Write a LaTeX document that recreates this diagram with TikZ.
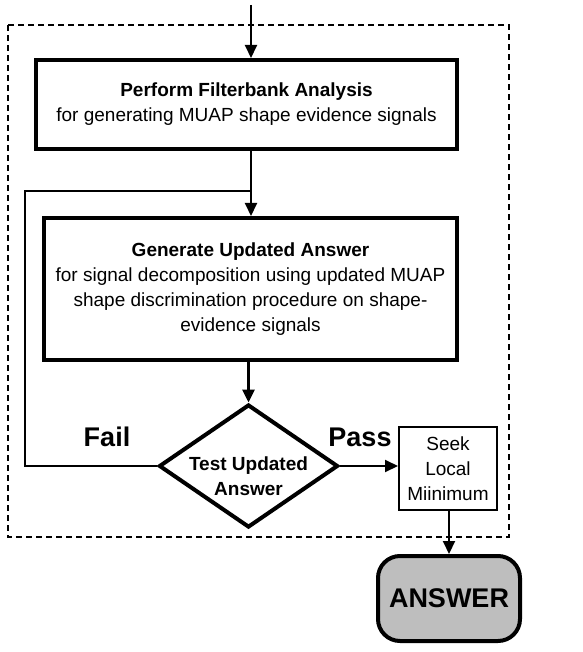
\documentclass[tikz,border=0pt]{standalone}
\usepackage{fontspec}
\setmainfont{Liberation Sans}
\usetikzlibrary{positioning, shapes.geometric, arrows.meta}
\definecolor{answergray}{RGB}{190,190,190}

\begin{document}
\begin{tikzpicture}
	[x=1pt, y=-1pt, on grid, >={Triangle[length=13pt,width=12pt]},
	 every node/.style={font=\fontsize{19}{25}\selectfont, align=center},
	 procbox/.style={draw, rectangle, line width=4pt, inner sep=0pt},
	 test/.style={draw, diamond, line width=4pt, minimum width=179pt, minimum height=123pt, inner sep=0pt},
	 seekbox/.style={draw, rectangle, line width=2pt, minimum width=98pt, minimum height=83pt, inner sep=0pt},
	 answerbox/.style={draw, rectangle, rounded corners=22pt, line width=4pt, fill=answergray,
	   minimum width=142pt, minimum height=85pt, font=\fontsize{27}{27}\selectfont\bfseries},
	 flow/.style={line width=2pt},
	 dashbox/.style={dash pattern=on 6pt off 4pt, line width=1.5pt},
	 verdict/.style={font=\fontsize{27}{27}\selectfont\bfseries, anchor=base}]
   \useasboundingbox (0,0) rectangle (582,652);
   \draw[dashbox] (8,25) rectangle (509,537);

   \node[procbox, minimum width=421pt, minimum height=89pt] (filter) at (246.5,104.5)
     {\textbf{Perform Filterbank Analysis}\\for generating MUAP shape evidence signals};
   \node[procbox, minimum width=413pt, minimum height=142pt] (update) [below right=184.5pt and 4pt of filter]
     {\textbf{Generate Updated Answer}\\for signal decomposition using updated MUAP\\shape discrimination procedure on shape-\\evidence signals};
   \node[test, label={[font=\fontsize{19}{25}\selectfont\bfseries, align=center, yshift=-10pt]center:Test Updated\\Answer}]
     (dia) [below left=177pt and 2pt of update] {};
   \node[seekbox] (seek) [below right=2.5pt and 199.5pt of dia] {Seek\\Local\\Miinimum};
   \node[answerbox] (answer) [below right=130pt and 1pt of seek] {ANSWER};

   \node[verdict] (failtxt) at (107,446) {Fail};
   \node[verdict] (passtxt) at (360,446) {Pass};

   \coordinate (in) at (251,5);
   \coordinate (join) at (251,191);
   \coordinate (back) at (25,466);

   \draw[flow, ->] (in) -- (in |- filter.north);
   \draw[flow] (filter.south -| join) -- (join);
   \draw[flow, ->] (join) -- (join |- update.north);
   \draw[line width=3pt, ->] (update.south -| dia.north) -- (dia.north);
   \draw[flow] (dia.west) -- (dia.west -| back) |- (join);
   \draw[flow, ->] (dia.east) -- (dia.east -| seek.west);
   \draw[flow, ->] (seek.south -| answer.north) -- (answer.north);

\end{tikzpicture}
\end{document}
